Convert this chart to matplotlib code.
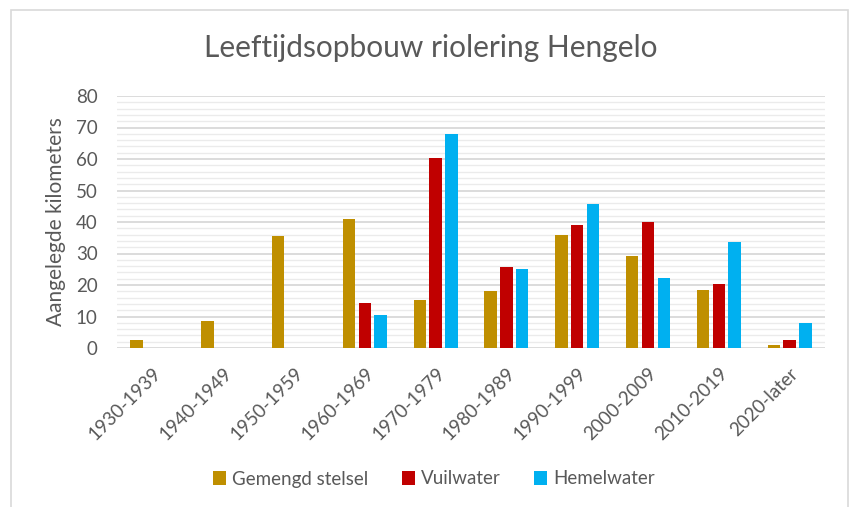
import matplotlib
matplotlib.use("Agg")
import matplotlib.pyplot as plt
import numpy as np
from matplotlib.patches import Rectangle
from matplotlib.ticker import MultipleLocator

categories = ["1930-1939", "1940-1949", "1950-1959", "1960-1969", "1970-1979",
              "1980-1989", "1990-1999", "2000-2009", "2010-2019", "2020-later"]
gemengd = [2.6, 8.7, 35.7, 40.9, 15.1, 18.0, 35.9, 29.3, 18.3, 0.8]
vuilwater = [0, 0, 0, 14.4, 60.4, 25.7, 39.1, 39.9, 20.4, 2.6]
hemelwater = [0, 0, 0, 10.5, 67.9, 25.2, 45.8, 22.1, 33.5, 7.9]
series_names = ["Gemengd stelsel", "Vuilwater", "Hemelwater"]
colors = ["#BF8F00", "#C00000", "#00B0F0"]

TXT = "#595959"
plt.rcParams['font.family'] = ['Lato', 'DejaVu Sans']

W, H = 856, 507
fig = plt.figure(figsize=(W / 100, H / 100), dpi=100)
fig.patch.set_facecolor("white")

# chart border
fig.add_artist(Rectangle((11 / W, -0.01), (848 - 11) / W, 1 - 10 / H + 0.01,
                         transform=fig.transFigure, fill=False,
                         edgecolor="#D9D9D9", linewidth=1.2))

ax = fig.add_axes([117 / W, 159 / H, (825 - 117) / W, (348 - 96) / H])
x = np.arange(len(categories))
bw = 0.174
pitch = 0.223
for i, (vals, name, c) in enumerate(zip([gemengd, vuilwater, hemelwater], series_names, colors)):
    vals = np.array(vals, dtype=float)
    ax.bar(x + (i - 1) * pitch, vals, width=bw, color=c, label=name, zorder=3)

ax.set_xlim(-0.5, len(categories) - 0.5)
ax.set_ylim(0, 80)
ax.yaxis.set_major_locator(MultipleLocator(10))
ax.yaxis.set_minor_locator(MultipleLocator(2))
ax.grid(axis='y', which='major', color="#D9D9D9", linewidth=1.3, zorder=0)
ax.grid(axis='y', which='minor', color="#EBEBEB", linewidth=1.0, zorder=0)
for s in ax.spines.values():
    s.set_visible(False)
ax.tick_params(axis='both', which='both', length=0)
ax.tick_params(axis='y', labelsize=13.5, labelcolor=TXT, pad=14)
ax.set_xticks(x)
ax.set_xticklabels(categories, rotation=45, ha='right', rotation_mode='anchor',
                   fontsize=13.5, color=TXT)
ax.tick_params(axis='x', pad=12)
ax.set_ylabel("Aangelegde kilometers", fontsize=15, color=TXT, labelpad=7)

fig.text(431 / W, 1 - 48 / H, "Leeftijdsopbouw riolering Hengelo",
         ha='center', va='center', fontsize=21.5, color=TXT)

handles, labels = ax.get_legend_handles_labels()
fig.legend(handles, labels, loc='center', bbox_to_anchor=(434 / W, 1 - 479 / H),
           ncol=3, frameon=False, fontsize=13.5, handlelength=0.7, handleheight=0.7,
           handletextpad=0.3, columnspacing=1.8, labelcolor=TXT)

fig.savefig("out.png", dpi=100, facecolor="white")
